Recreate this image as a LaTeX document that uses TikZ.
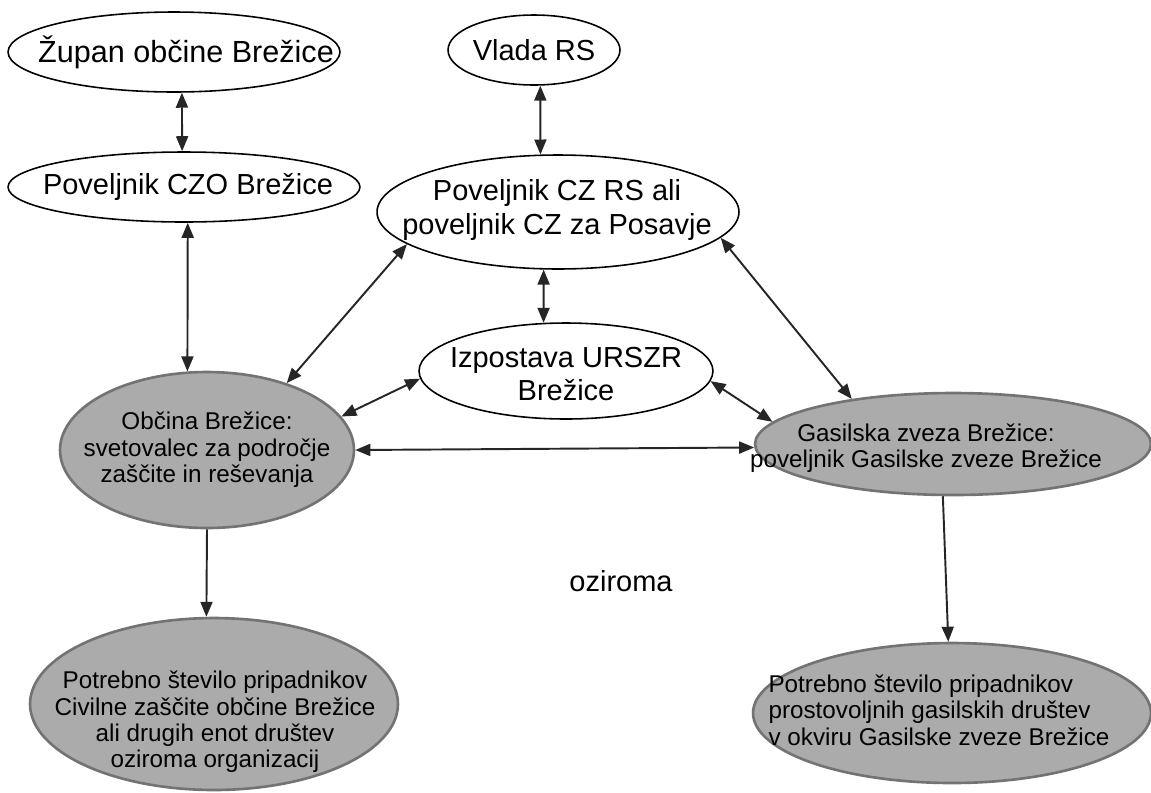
\documentclass[tikz,border=0pt]{standalone}
\usepackage{fontspec}
\setmainfont{Liberation Sans}
\usetikzlibrary{arrows.meta,shapes}

\begin{document}
\begin{tikzpicture}[x=0.02cm, y=-0.02cm,
	wbub/.style={draw=black, line width=0.9pt, ellipse, inner sep=0pt, fill=white},
	gbub/.style={draw=black!55, line width=1.5pt, ellipse, inner sep=0pt, fill=black!33},
	bigtxt/.style={font=\fontsize{16.5}{19}\selectfont, align=center, inner sep=0pt},
	smalltxt/.style={font=\fontsize{13.8}{15}\selectfont, align=center, inner sep=0pt},
	link/.style={line width=1.1pt, draw=black!85, {Triangle[length=0.3cm,width=0.24cm]}-{Triangle[length=0.3cm,width=0.24cm]}},
	onearrow/.style={line width=1.1pt, draw=black!85, -{Triangle[length=0.3cm,width=0.24cm]}}]
\useasboundingbox (0,0) rectangle (1151,792);
% top left
\node[wbub, minimum width=6.64cm, minimum height=1.6cm] (zup) at (174,52) {};
\node[bigtxt, font=\fontsize{17.4}{19}\selectfont] (zupT) at (186,52) {Župan občine Brežice};
\node[wbub, minimum width=7.04cm, minimum height=1.4cm] (czo) at (184,187) {};
\node[bigtxt] (czoT) at (188,187) {Poveljnik CZO Brežice};
% top middle
\node[wbub, minimum width=3.44cm, minimum height=1.4cm] (vlada) at (534,50) {};
\node[bigtxt] (vladaT) at (534,50) {Vlada RS};
\node[wbub, minimum width=7.24cm, minimum height=2.28cm] (czrs) at (558,212) {};
\node[bigtxt] (czrsT) at (557,210) {Poveljnik CZ RS ali\\poveljnik CZ za Posavje};
\node[wbub, minimum width=5.88cm, minimum height=1.92cm] (izp) at (566,371) {};
\node[bigtxt] (izpT) at (566,374) {Izpostava URSZR\\Brežice};
% gray ones
\node[gbub, minimum width=5.88cm, minimum height=3.12cm] (obc) at (207,450) {};
\node[smalltxt] (obcT) at (207,450) {Občina Brežice:\\svetovalec za področje\\zaščite in reševanja};
\node[gbub, minimum width=7.92cm, minimum height=2.04cm] (gas) at (953,444) {};
\node[smalltxt] (gasT) at (926,448) {Gasilska zveza Brežice:\\poveljnik Gasilske zveze Brežice};
\node[gbub, minimum width=7.36cm, minimum height=3.44cm] (potl) at (214,704) {};
\node[smalltxt] (potlT) at (215,722) {Potrebno število pripadnikov\\Civilne zaščite občine Brežice\\ali drugih enot društev\\oziroma organizacij};
\node[gbub, minimum width=7.96cm, minimum height=2.8cm] (potr) at (952,713) {};
\node[smalltxt, align=left] (potrT) at (939,710) {Potrebno število pripadnikov\\prostovoljnih gasilskih društev\\ v okviru Gasilske zveze Brežice};
\node[bigtxt] (ozT) at (621,581) {oziroma};
% arrows
\draw[link] (zup.-79) -- (czo.93);
\draw[link] (vlada.-80) -- (czrs.107);
\draw[link] (czo.-84) -- (obc.104);
\draw[link] (czrs.-168) -- (obc.40);
\draw[link] (czrs.-104) -- (izp.115);
\draw[link] (czrs.-9) -- (gas.156);
\draw[link] (izp.183) -- (obc.14);
\draw[link] (izp.-4) -- (gas.173);
\draw[link] (obc.0) -- (gas.181);
\draw[onearrow] (obc.-90) -- (potl.95);
\draw[onearrow] (gas.-101) -- (potr.93);
\end{tikzpicture}
\end{document}
